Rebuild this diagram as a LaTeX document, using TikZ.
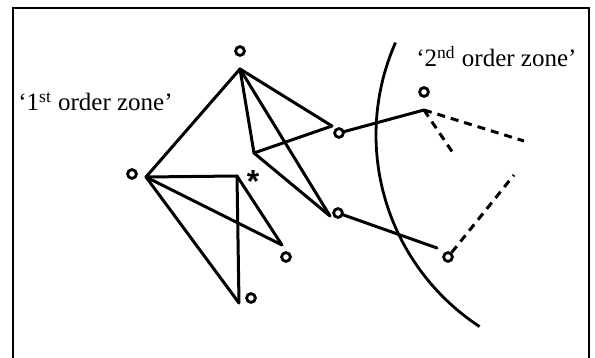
\documentclass[tikz,border=0pt]{standalone}
\usepackage{fontspec}
\setmainfont{Liberation Serif}
\setsansfont{Liberation Sans}
\begin{document}
\begin{tikzpicture}[x=0.5pt,y=-0.5pt,
  edge/.style={line width=1.5pt, line cap=round},
  dash2/.style={line width=1.5pt, dash pattern=on 4pt off 3pt},
  mk/.style={circle, draw, line width=1.4pt, inner sep=0pt, minimum size=4.4pt},
  lbl/.style={inner sep=0pt, anchor=base west, font=\fontsize{12.5}{15}\selectfont},
  frame/.style={line width=1.2pt}]
\useasboundingbox (0,0) rectangle (595,358);
% frame (bottom edge lies outside the picture)
\coordinate (f1) at (13,358);
\coordinate (f2) at (13,8);
\coordinate (f3) at (589,8);
\coordinate (f4) at (589,358);
\draw[frame] (f1) -- (f2) -- (f3) -- (f4);
% vertices
\coordinate (A) at (240,69);
\coordinate (B) at (146,177);
\coordinate (C) at (237,176);
\coordinate (D) at (282,245);
\coordinate (E) at (239,303);
\coordinate (F) at (332,126);
\coordinate (G) at (254,153);
\coordinate (H) at (330,216);
\coordinate (I) at (424,110);
\coordinate (J) at (437,248);
\coordinate (P1) at (524,141);
\coordinate (P2) at (453,153);
\coordinate (P3) at (514,175);
% markers
\node[mk] (cA) at (240,51) {};
\node[mk] (cB) at (132,174) {};
\node[mk] (cD) at (286,257) {};
\node[mk] (cE) at (251,298) {};
\node[mk] (cF) at (339,133) {};
\node[mk] (cH) at (338,213) {};
\node[mk] (cI) at (424,92) {};
\node[mk] (cJ) at (448,257) {};
\node[inner sep=0pt, font=\sffamily\bfseries\fontsize{16}{16}\selectfont] (star) at (253,181) {*};
% first order connections
\draw[edge] (A) -- (B);
\draw[edge] (A) -- (F);
\draw[edge] (A) -- (G);
\draw[edge] (A) -- (H);
\draw[edge] (G) -- (F);
\draw[edge] (G) -- (H);
\draw[edge] (B) -- (C);
\draw[edge] (B) -- (D);
\draw[edge] (B) -- (E);
\draw[edge] (C) -- (D);
\draw[edge] (C) -- (E);
% links to second order zone
\draw[edge] (cF) -- (I);
\draw[edge] (cH) -- (J);
\draw[dash2] (I) -- (P1);
\draw[dash2] (I) -- (P2);
\draw[dash2] (cJ) -- (P3);
% zone boundary
\draw[line width=1.4pt] plot[domain=123.2:203.8, samples=60] ({605+229*cos(\x)}, {135+229*sin(\x)});
% labels
\node[lbl] (z1) at (18,111) {‘1\textsuperscript{st} order zone’};
\node[lbl] (z2) at (416,67) {‘2\textsuperscript{nd} order zone’};
\end{tikzpicture}
\end{document}
